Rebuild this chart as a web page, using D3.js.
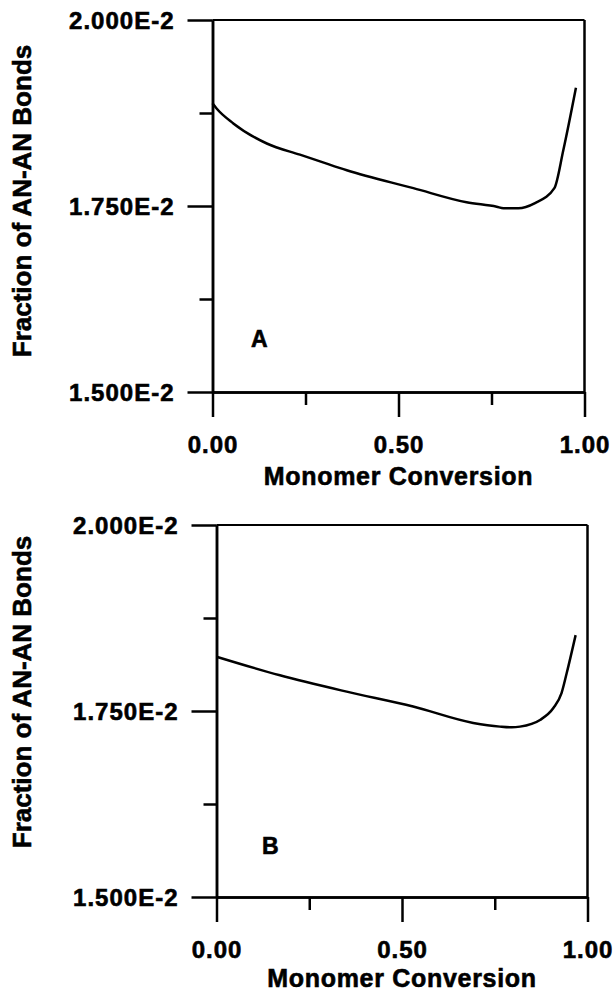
<!DOCTYPE html>
<html>
<head>
<meta charset="utf-8">
<script src="https://cdn.jsdelivr.net/npm/d3@7"></script>
<style>
  html, body { margin: 0; padding: 0; background: #fff; }
  svg { display: block; }
  text { font-family: "Liberation Sans", Arial, Helvetica, sans-serif; font-weight: bold; fill: #000; stroke: #000; stroke-width: 0.6px; }
</style>
</head>
<body>
<svg id="chart" width="614" height="994"></svg>
<script>
// ---- data ----
const xMajorTicks = [0, 0.5, 1.0];
const xMinorTicks = [0.25, 0.75];
const yMajorTicks = [0.015, 0.0175, 0.02];
const yMinorTicks = [0.01625, 0.01875];
const xDomain = [0, 1];
const yDomain = [0.015, 0.02];
const xTitle = "Monomer Conversion";
const yTitle = "Fraction of AN-AN Bonds";

const panelLabels = ["A", "B"];

const conversionA = [0.000, 0.011, 0.056, 0.146, 0.235, 0.289, 0.361, 0.540, 0.683, 0.764, 0.782, 0.822, 0.867, 0.919, 0.943, 0.977];
const fractionA   = [0.01888, 0.01881, 0.01861, 0.01834, 0.01819, 0.01810, 0.01798, 0.01774, 0.01755, 0.01749, 0.01747, 0.01747, 0.01754, 0.01774, 0.01825, 0.01909];

const conversionB = [0.000, 0.171, 0.351, 0.530, 0.692, 0.764, 0.796, 0.818, 0.872, 0.908, 0.930, 0.944, 0.968];
const fractionB   = [0.01823, 0.01798, 0.01776, 0.01756, 0.01734, 0.01729, 0.01728, 0.01729, 0.01738, 0.01754, 0.01774, 0.01801, 0.01852];

// ---- layout ----
const panels = [
  { left: 212.5, right: 584.5, top: 20, bottom: 392, xs: conversionA, ys: fractionA, label: panelLabels[0], labelX: 251, labelY: 347, yTitleX: 31, yTitleY: 201, titleY: 485 },
  { left: 216.5, right: 587.5, top: 525, bottom: 897, xs: conversionB, ys: fractionB, label: panelLabels[1], labelX: 262, labelY: 854, yTitleX: 31, yTitleY: 692, titleY: 987 }
];

const svg = d3.select("#chart");
const fmtY = d => (d * 100).toFixed(3) + "E-2";
const fmtX = d3.format(".2f");
const axisW = 2.5;

panels.forEach(p => {
  const x = d3.scaleLinear().domain(xDomain).range([p.left, p.right]);
  const y = d3.scaleLinear().domain(yDomain).range([p.bottom, p.top]);
  const g = svg.append("g");

  // frame (top & right)
  g.append("line").attr("x1", p.left).attr("x2", p.right).attr("y1", p.top).attr("y2", p.top)
    .attr("stroke", "#000").attr("stroke-width", 2.2);
  g.append("line").attr("x1", p.right).attr("x2", p.right).attr("y1", p.top).attr("y2", p.bottom)
    .attr("stroke", "#000").attr("stroke-width", axisW);

  // y axis major
  const yMaj = g.append("g").attr("transform", `translate(${p.left},0)`)
    .call(d3.axisLeft(y).tickValues(yMajorTicks).tickSize(25).tickSizeOuter(0).tickFormat(fmtY));
  yMaj.selectAll("text").attr("x", -38).attr("dy", null).attr("y", 8)
    .style("font-size", "24px").style("letter-spacing", "1px").attr("text-anchor", "end");
  // y axis minor
  g.append("g").attr("transform", `translate(${p.left},0)`)
    .call(d3.axisLeft(y).tickValues(yMinorTicks).tickSize(13).tickSizeOuter(0).tickFormat(""));

  // x axis major
  const xMaj = g.append("g").attr("transform", `translate(0,${p.bottom})`)
    .call(d3.axisBottom(x).tickValues(xMajorTicks).tickSize(25).tickSizeOuter(0).tickFormat(fmtX));
  xMaj.selectAll("text").attr("y", 61).attr("dy", null)
    .style("font-size", "24px").style("letter-spacing", "1px");
  g.append("g").attr("transform", `translate(0,${p.bottom})`)
    .call(d3.axisBottom(x).tickValues(xMinorTicks).tickSize(13).tickSizeOuter(0).tickFormat(""));

  g.selectAll(".domain").attr("stroke", "#000").attr("stroke-width", axisW);
  g.selectAll(".tick line").attr("stroke", "#000").attr("stroke-width", axisW);

  // x title
  g.append("text").attr("x", (p.left + p.right) / 2).attr("y", p.titleY)
    .attr("text-anchor", "middle").style("font-size", "25px").style("letter-spacing", "0.7px")
    .text(xTitle);

  // y title
  g.append("text").attr("transform", `translate(${p.yTitleX},${p.yTitleY}) rotate(-90)`)
    .attr("text-anchor", "middle").style("font-size", "26px")
    .text(yTitle);

  // panel letter
  g.append("text").attr("x", p.labelX).attr("y", p.labelY)
    .style("font-size", "23px").text(p.label);

  // curve
  const pts = p.xs.map((v, i) => [v, p.ys[i]]);
  g.append("path").datum(pts)
    .attr("fill", "none").attr("stroke", "#000").attr("stroke-width", 2.5)
    .attr("stroke-linejoin", "round")
    .attr("d", d3.line().x(d => x(d[0])).y(d => y(d[1])).curve(d3.curveMonotoneX));
});
</script>
</body>
</html>
